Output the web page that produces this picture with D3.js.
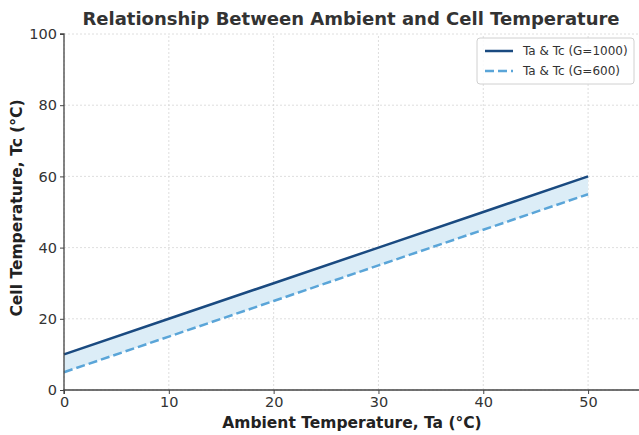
<!DOCTYPE html>
<html>
<head>
<meta charset="utf-8">
<script src="https://cdn.jsdelivr.net/npm/d3@7"></script>
<style>
  body { margin: 0; background: #fff; }
  text { font-family: "DejaVu Sans", sans-serif; }
</style>
</head>
<body>
<div id="chart"></div>
<script>
// data
const ambient = [0, 10, 20, 30, 40, 50];
const cellG1000 = [10, 20, 30, 40, 50, 60];
const cellG600 = [5, 15, 25, 35, 45, 55];
const xTicks = [0, 10, 20, 30, 40, 50];
const yTicks = [0, 20, 40, 60, 80, 100];
const seriesNames = ["Ta & Tc (G=1000)", "Ta & Tc (G=600)"];

const width = 639, height = 435;
const svg = d3.select("#chart")
              .append("svg")
              .attr("width", width)
              .attr("height", height);

const xScale = d3.scaleLinear().domain([0, 55]).range([64, 640.5]);
const yScale = d3.scaleLinear().domain([0, 100]).range([390, 34]);

// grid
svg.append("g")
   .selectAll("line")
   .data(xTicks)
   .join("line")
   .attr("x1", d => xScale(d)).attr("x2", d => xScale(d))
   .attr("y1", yScale(0)).attr("y2", yScale(100))
   .attr("stroke", "#d5d5d5")
   .attr("stroke-width", 0.8)
   .attr("stroke-dasharray", "2,2");

svg.append("g")
   .selectAll("line")
   .data(yTicks)
   .join("line")
   .attr("x1", xScale(0)).attr("x2", xScale(55))
   .attr("y1", d => yScale(d)).attr("y2", d => yScale(d))
   .attr("stroke", "#d5d5d5")
   .attr("stroke-width", 0.8)
   .attr("stroke-dasharray", "2,2");

const rows = ambient.map((a, i) => ({ a, hi: cellG1000[i], lo: cellG600[i] }));

svg.append("path")
   .datum(rows)
   .attr("d", d3.area().x(d => xScale(d.a)).y0(d => yScale(d.lo)).y1(d => yScale(d.hi)))
   .attr("fill", "#dcedf7");

svg.append("path")
   .datum(rows)
   .attr("d", d3.line().x(d => xScale(d.a)).y(d => yScale(d.lo)))
   .attr("fill", "none")
   .attr("stroke", "#5aa5d8")
   .attr("stroke-width", 2.5)
   .attr("stroke-dasharray", "9,4");

svg.append("path")
   .datum(rows)
   .attr("d", d3.line().x(d => xScale(d.a)).y(d => yScale(d.hi)))
   .attr("fill", "none")
   .attr("stroke", "#1a4a80")
   .attr("stroke-width", 2.5);

// axes
const xAxis = svg.append("g")
   .attr("transform", `translate(0,${yScale(0)})`)
   .call(d3.axisBottom(xScale).tickValues(xTicks).tickSize(4).tickPadding(3));
const yAxis = svg.append("g")
   .attr("transform", `translate(${xScale(0)},0)`)
   .call(d3.axisLeft(yScale).tickValues(yTicks).tickSize(4).tickPadding(3));

[xAxis, yAxis].forEach(ax => {
    ax.select(".domain").attr("stroke", "#444").attr("stroke-width", 1.3);
    ax.selectAll(".tick line").attr("stroke", "#444");
    ax.selectAll(".tick text")
      .style("font-family", "DejaVu Sans, sans-serif")
      .style("font-size", "14.5px")
      .attr("fill", "#333");
});
yAxis.select(".domain").attr("d", `M-4,${yScale(100)}H0V${yScale(0)}`);
xAxis.select(".domain").attr("d", `M${xScale(0)},4V0H${xScale(55)}`);

// titles
svg.append("text")
   .text("Relationship Between Ambient and Cell Temperature")
   .attr("x", 351).attr("y", 25)
   .attr("text-anchor", "middle")
   .style("font-size", "18px")
   .style("font-weight", "bold")
   .attr("fill", "#333");

svg.append("text")
   .text("Ambient Temperature, Ta (°C)")
   .attr("x", 352).attr("y", 428)
   .attr("text-anchor", "middle")
   .style("font-size", "15.5px")
   .style("font-weight", "bold")
   .attr("fill", "#222");

svg.append("text")
   .text("Cell Temperature, Tc (°C)")
   .attr("transform", `translate(22,208) rotate(-90)`)
   .attr("text-anchor", "middle")
   .style("font-size", "15.5px")
   .style("font-weight", "bold")
   .attr("fill", "#222");

// legend
const legend = svg.append("g").attr("transform", "translate(477,38)");
legend.append("rect")
      .attr("width", 157).attr("height", 46)
      .attr("rx", 3)
      .attr("fill", "#fff")
      .attr("fill-opacity", 0.85)
      .attr("stroke", "#d0d0d0");

const legendStyles = [
    { color: "#1a4a80", dash: null },
    { color: "#5aa5d8", dash: "9,4" }
];

seriesNames.forEach((name, i) => {
    const y = 13 + i * 20;
    legend.append("line")
          .attr("x1", 8).attr("x2", 36)
          .attr("y1", y).attr("y2", y)
          .attr("stroke", legendStyles[i].color)
          .attr("stroke-width", 2.5)
          .attr("stroke-dasharray", legendStyles[i].dash);
    legend.append("text")
          .text(name)
          .attr("x", 46).attr("y", y)
          .style("dominant-baseline", "middle")
          .style("font-size", "12px")
          .attr("fill", "#333");
});
</script>
</body>
</html>
